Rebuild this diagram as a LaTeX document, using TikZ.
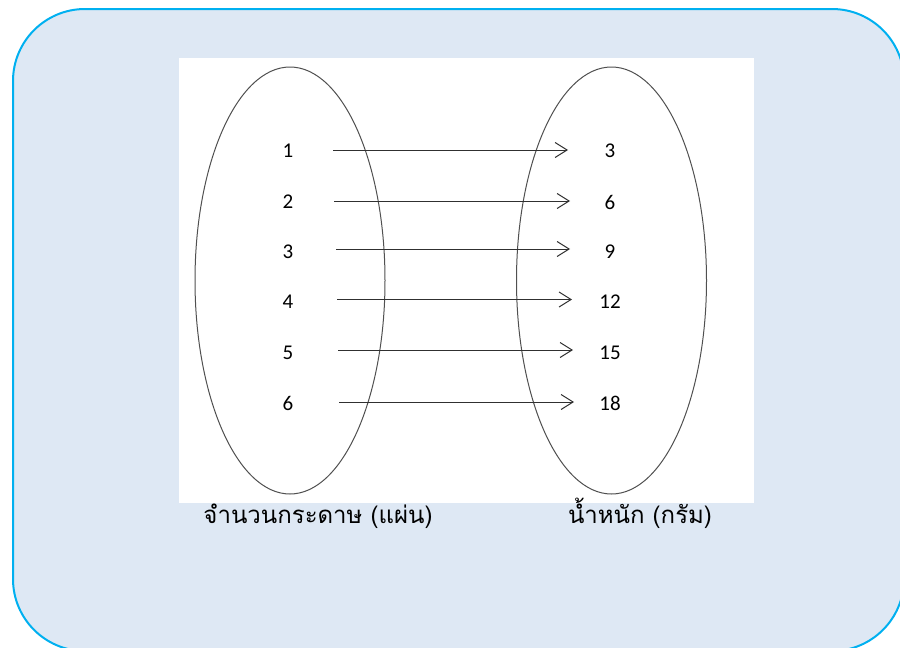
\documentclass[tikz,border=0pt]{standalone}
\usepackage{fontspec}
\setmainfont{Carlito}
\newfontfamily\thaifont[Script=Thai]{Loma}
\usetikzlibrary{arrows.meta,shapes.geometric}
\definecolor{panelfill}{HTML}{DEE8F4}
\definecolor{panelline}{HTML}{00B0F0}
\definecolor{ellline}{HTML}{505050}
\definecolor{arrline}{HTML}{303030}
\begin{document}
\begin{tikzpicture}[x=1pt,y=-1pt,
 num/.style={font=\fontsize{21}{22}\selectfont, inner sep=0pt, anchor=center},
 lab/.style={font=\thaifont\fontsize{24}{26}\selectfont, inner sep=0pt, anchor=base},
 arr/.style={draw=arrline, line width=1pt, -{Straight Barb[length=12pt,width=15pt]}},
 setell/.style={ellipse, draw=ellline, line width=1pt, inner sep=0pt, minimum width=190pt, minimum height=427pt}]
\useasboundingbox (0,0) rectangle (900,648);
\clip (0,0) rectangle (900,648);
\path[fill=panelfill, draw=panelline, line width=2pt, rounded corners=72pt] (13,9) rectangle (904,651);
\fill[white] (179,58) rectangle (754,503);
\node[setell] (setA) at (290,280.5) {};
\node[setell] (setB) at (611.5,280.5) {};
% left numbers
\node[num] (l1) at (288,151) {1};
\node[num] (l2) at (288,202) {2};
\node[num] (l3) at (288,252) {3};
\node[num] (l4) at (288,302) {4};
\node[num] (l5) at (288,353) {5};
\node[num] (l6) at (288,403) {6};
% right numbers
\node[num] (r1) at (610,151) {3};
\node[num] (r2) at (610,202) {6};
\node[num] (r3) at (610,252) {9};
\node[num] (r4) at (610,302) {12};
\node[num] (r5) at (610,353) {15};
\node[num] (r6) at (610,403) {18};
% arrow ends
\coordinate (a1) at (333,150);   \coordinate (b1) at (568,150);
\coordinate (a2) at (334,201);   \coordinate (b2) at (570,201);
\coordinate (a3) at (336,249);   \coordinate (b3) at (570,249);
\coordinate (a4) at (337,299.5); \coordinate (b4) at (572,299.5);
\coordinate (a5) at (338,350);   \coordinate (b5) at (573,350);
\coordinate (a6) at (339,402);   \coordinate (b6) at (574,402);
\foreach \i in {1,...,6} {\draw[arr] (a\i) -- (b\i);}
% labels
\node[lab] (labA) at (318,523) {จำนวนกระดาษ (แผ่น)};
\node[lab] (labB) at (640,523) {น้ำหนัก (กรัม)};
\end{tikzpicture}
\end{document}
